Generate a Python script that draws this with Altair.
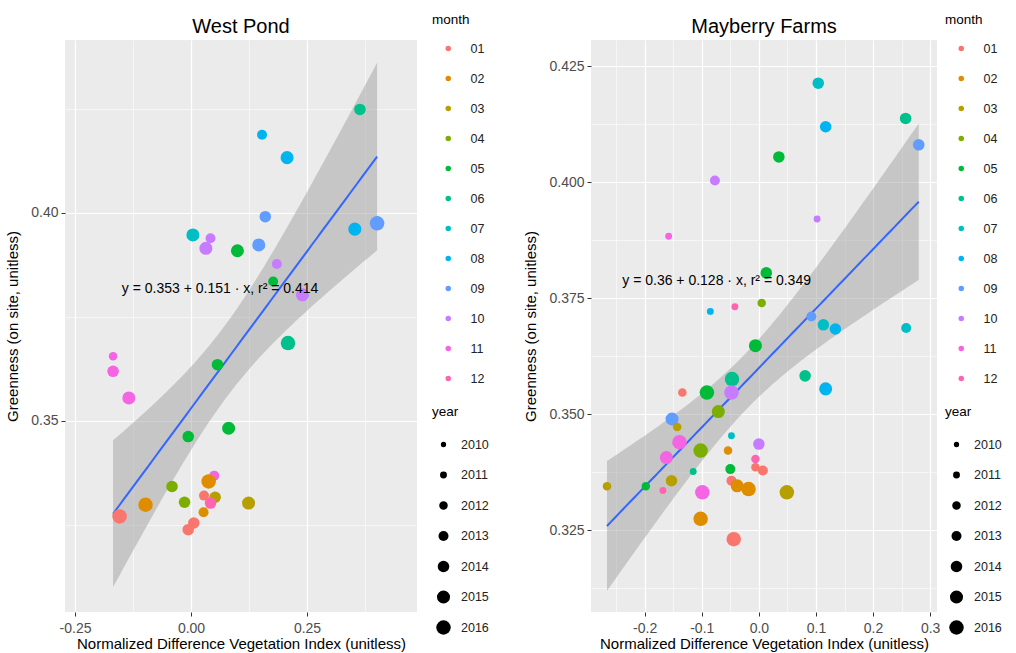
import math
import numpy as np
import pandas as pd
import altair as alt

FONT = "Liberation Sans"

months = ["01", "02", "03", "04", "05", "06", "07", "08", "09", "10", "11", "12"]
month_colors = ["#F8766D", "#DE8C00", "#B79F00", "#7CAE00", "#00BA38", "#00C08B",
                "#00BFC4", "#00B4F0", "#619CFF", "#C77CFF", "#F564E3", "#FF64B0"]
years = [2010, 2011, 2012, 2013, 2014, 2015, 2016]
year_sizes = [28, 48, 72, 100, 133, 170, 210]

# ---------------- West Pond ----------------
wp_ndvi = [0.364, 0.153, 0.207, 0.160, 0.401, 0.353, 0.004, 0.042, 0.032, 0.100,
           0.146, 0.185, 0.177, 0.240, 0.209, -0.168, -0.168, -0.134, 0.057, -0.006,
           0.081, 0.050, 0.038, -0.041, -0.014, 0.052, 0.028, 0.042, 0.124, -0.098,
           -0.154, 0.027, 0.006, -0.006]
wp_green = [0.4249, 0.4188, 0.4133, 0.3991, 0.3975, 0.3961, 0.3947, 0.3939, 0.3915, 0.3909,
            0.3923, 0.3877, 0.3835, 0.3803, 0.3687, 0.3655, 0.3619, 0.3555, 0.3635, 0.3462,
            0.3482, 0.3368, 0.3354, 0.3342, 0.3304, 0.3316, 0.3320, 0.3302, 0.3302, 0.3298,
            0.3270, 0.3280, 0.3254, 0.3238]
wp_month = ["06", "08", "08", "09", "09", "08", "07", "10", "10", "05",
            "09", "10", "05", "10", "06", "11", "11", "11", "05", "05",
            "05", "11", "02", "04", "04", "03", "01", "12", "03", "02",
            "01", "02", "01", "01"]
wp_year = [2014, 2013, 2015, 2014, 2016, 2015, 2015, 2013, 2015, 2015,
           2015, 2013, 2013, 2015, 2016, 2012, 2014, 2015, 2014, 2014,
           2015, 2013, 2016, 2014, 2014, 2014, 2013, 2014, 2015, 2016,
           2016, 2013, 2014, 2014]
wp_coef = [0.353, 0.151]
wp_eq = "y = 0.353 + 0.151 · x,  r² = 0.414"
wp_eq_pos = [0.0625, 0.3817]

# ---------------- Mayberry Farms ----------------
mf_ndvi = [0.104, 0.117, 0.257, 0.280, 0.035, -0.077, 0.102, -0.158, 0.013, 0.005,
           -0.042, -0.085, 0.092, 0.113, 0.134, 0.258, -0.006, 0.081, 0.117, -0.047,
           -0.091, -0.048, -0.134, -0.071, -0.152, -0.143, -0.048, -0.139, 0.000, -0.102,
           -0.054, -0.162, -0.006, -0.050, -0.006, 0.007, -0.115, -0.048, -0.153, -0.198,
           -0.266, -0.168, -0.038, -0.018, -0.099, 0.049, -0.102, -0.044]
mf_green = [0.4214, 0.4120, 0.4138, 0.4081, 0.4055, 0.4004, 0.3921, 0.3884, 0.3805, 0.3740,
            0.3732, 0.3722, 0.3711, 0.3693, 0.3684, 0.3686, 0.3648, 0.3583, 0.3555, 0.3576,
            0.3547, 0.3547, 0.3547, 0.3506, 0.3490, 0.3473, 0.3454, 0.3440, 0.3436, 0.3422,
            0.3422, 0.3407, 0.3404, 0.3382, 0.3386, 0.3379, 0.3377, 0.3357, 0.3357, 0.3345,
            0.3345, 0.3336, 0.3346, 0.3339, 0.3332, 0.3332, 0.3275, 0.3231]
mf_month = ["07", "08", "06", "09", "05", "10", "10", "11", "05", "04",
            "12", "08", "09", "07", "08", "07", "05", "06", "08", "06",
            "05", "10", "01", "04", "09", "03", "07", "11", "10", "04",
            "02", "11", "12", "05", "01", "01", "06", "01", "03", "05",
            "03", "12", "02", "02", "11", "03", "02", "01"]
mf_year = [2014, 2014, 2014, 2014, 2014, 2013, 2011, 2011, 2014, 2012,
           2011, 2011, 2013, 2014, 2014, 2013, 2015, 2014, 2015, 2016,
           2016, 2016, 2012, 2015, 2015, 2012, 2011, 2016, 2014, 2016,
           2012, 2015, 2012, 2013, 2012, 2013, 2011, 2013, 2014, 2012,
           2012, 2011, 2015, 2016, 2016, 2016, 2016, 2016]
mf_coef = [0.36, 0.128]
mf_eq = "y = 0.36 + 0.128 · x,  r² = 0.349"
mf_eq_pos = [-0.074, 0.3788]

X_TITLE = "Normalized Difference Vegetation Index (unitless)"
Y_TITLE = "Greenness (on site, unitless)"


def fit_band(x, y, coef, n_grid=80):
    """Linear fit line (coefficients as printed on the chart) with a 95% confidence band."""
    x = np.asarray(x, float)
    y = np.asarray(y, float)
    a, b = coef
    n = len(x)
    xbar = x.mean()
    sxx = ((x - xbar) ** 2).sum()
    s = math.sqrt(((y - (a + b * x)) ** 2).sum() / (n - 2))
    df = n - 2
    z = 1.959964
    t = z + (z ** 3 + z) / (4 * df) + (5 * z ** 5 + 16 * z ** 3 + 3 * z) / (96 * df ** 2)
    gx = np.linspace(x.min(), x.max(), n_grid)
    fit = a + b * gx
    se = s * np.sqrt(1.0 / n + (gx - xbar) ** 2 / sxx)
    return pd.DataFrame({"ndvi": gx, "green": fit, "lo": fit - t * se, "hi": fit + t * se})


def major_test(step):
    return f"abs(datum.value/{step} - round(datum.value/{step})) < 0.001"


def make_axis(values, fmt, step, title_pad, label_pad):
    test = major_test(step)
    return alt.Axis(
        values=values, format=fmt,
        labelExpr=f"({test}) ? replace(datum.label, '\u2212', '-') : ''",
        gridColor="white",
        gridWidth={"condition": {"test": test, "value": 1.2}, "value": 0.55},
        tickOpacity={"condition": {"test": test, "value": 1}, "value": 0},
        tickColor="#333333", tickSize=4, tickWidth=1,
        labelColor="#4D4D4D", labelFontSize=14, labelFont=FONT, labelPadding=label_pad,
        titleFont=FONT, titleFontSize=15, titleFontWeight="normal", titleColor="black",
        titlePadding=title_pad, domain=False, labelFlush=False, labelOverlap=False,
    )


def panel(title, ndvi, green, month, year, coef, eq, eq_pos, xdom, ydom, xvals, yvals,
          xstep, ystep, xfmt, yfmt, width, height, legend_x):
    pts_df = pd.DataFrame({"ndvi": ndvi, "green": green, "month": month, "year": year})
    band_df = fit_band(ndvi, green, coef)
    eq_df = pd.DataFrame({"ndvi": [eq_pos[0]], "green": [eq_pos[1]], "label": [eq]})

    xaxis = make_axis(xvals, xfmt, xstep, 1, 5)
    yaxis = make_axis(yvals, yfmt, ystep, 10, 3)
    xs = alt.Scale(domain=xdom, nice=False, zero=False)
    ys = alt.Scale(domain=ydom, nice=False, zero=False)
    xenc = alt.X("ndvi:Q", scale=xs, axis=xaxis, title=X_TITLE)
    yenc = alt.Y("green:Q", scale=ys, axis=yaxis, title=Y_TITLE)

    band = alt.Chart(band_df).mark_area(color="#999999", opacity=0.45).encode(
        x=xenc, y=alt.Y("lo:Q", scale=ys, axis=yaxis, title=Y_TITLE), y2="hi:Q")
    line = alt.Chart(band_df).mark_line(color="#3366FF", strokeWidth=2).encode(x=xenc, y=yenc)
    points = alt.Chart(pts_df).mark_circle(opacity=1).encode(
        x=xenc, y=yenc,
        color=alt.Color("month:N", scale=alt.Scale(domain=months, range=month_colors),
                        legend=alt.Legend(title="month", orient="none", legendX=legend_x, legendY=-27,
                                          symbolType="circle", symbolSize=30, symbolStrokeWidth=0,
                                          symbolOffset=10,
                                          clipHeight=12, rowPadding=17, titlePadding=16,
                                          titleFont=FONT, titleFontSize=13.5, titleFontWeight="normal",
                                          titleColor="black", labelFont=FONT, labelFontSize=12.5,
                                          labelColor="#222222", labelOffset=16, padding=0)),
        size=alt.Size("year:O", scale=alt.Scale(type="ordinal", domain=years, range=year_sizes),
                      legend=alt.Legend(title="year", orient="none", legendX=legend_x, legendY=365,
                                        symbolType="circle", symbolFillColor="black",
                                        symbolStrokeWidth=0, symbolOffset=4,
                                        clipHeight=16, rowPadding=14.5, titlePadding=18,
                                        titleFont=FONT, titleFontSize=13.5, titleFontWeight="normal",
                                        titleColor="black", labelFont=FONT, labelFontSize=12.5,
                                        labelColor="#222222", labelOffset=10, padding=0)),
    )
    text = alt.Chart(eq_df).mark_text(font=FONT, fontSize=14, color="black").encode(
        x=xenc, y=yenc, text="label:N")

    return alt.layer(band, line, points, text).properties(
        width=width, height=height,
        title=alt.TitleParams(title, fontSize=20, font=FONT, fontWeight="normal",
                              color="black", anchor="middle", offset=-24),
    ).resolve_scale(color="independent", size="independent")


left = panel("West Pond", wp_ndvi, wp_green, wp_month, wp_year, wp_coef, wp_eq, wp_eq_pos,
             [-0.2716, 0.487], [0.304, 0.4416],
             [-0.375, -0.25, -0.125, 0.0, 0.125, 0.25, 0.375],
             [0.325, 0.35, 0.375, 0.40, 0.425],
             0.25, 0.05, ".2f", ".2f", 352, 572, 367)

right = panel("Mayberry Farms", mf_ndvi, mf_green, mf_month, mf_year, mf_coef, mf_eq, mf_eq_pos,
              [-0.294, 0.312], [0.3074, 0.4307],
              [-0.25, -0.2, -0.15, -0.1, -0.05, 0.0, 0.05, 0.1, 0.15, 0.2, 0.25, 0.3],
              [0.3125, 0.325, 0.3375, 0.35, 0.3625, 0.375, 0.3875, 0.40, 0.4125, 0.425],
              0.1, 0.025, ".1f", ".3f", 346, 572, 354)

chart = alt.hconcat(left, right, spacing=34).resolve_scale(
    color="independent", size="independent", x="independent", y="independent"
).resolve_legend(color="independent", size="independent").properties(
    padding={"left": 5, "top": 13, "right": 5, "bottom": 1}, background="white"
).configure_view(fill="#EBEBEB", stroke=None)

chart.save("out.html", embed_options={"renderer": "svg", "actions": False})
